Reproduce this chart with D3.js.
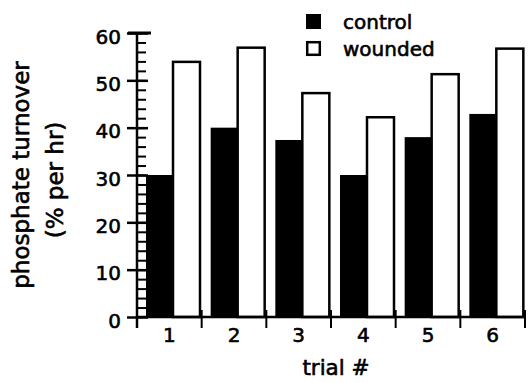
<!DOCTYPE html>
<html>
<head>
<meta charset="utf-8">
<script src="https://cdn.jsdelivr.net/npm/d3@7"></script>
<style>
  body { margin: 0; background: #fff; }
  svg { display: block; }
  text { font-family: "DejaVu Sans", sans-serif; fill: #000; stroke: #000; stroke-width: 0.6px; }
</style>
</head>
<body>
<div id="chart"></div>
<script>
// data
const trials = ["1", "2", "3", "4", "5", "6"];
const series = ["control", "wounded"];
const control = [30, 40, 37.4, 30, 38, 42.9];
const wounded = [53.9, 56.9, 47.3, 42.2, 51.3, 56.7];
const y_ticks = [0, 10, 20, 30, 40, 50, 60];

const width = 529;
const height = 383;

const svg = d3.select("#chart")
  .append("svg")
    .attr("width", width)
    .attr("height", height);

let x0 = d3.scaleBand()
  .domain(trials)
  .range([137, 525]);

let x1 = d3.scaleBand()
  .domain(series)
  .range([9, 63]);

let y_scale = d3.scaleLinear()
  .domain([0, 60])
  .range([317, 33]);

let rows = trials.map((t, i) => ({ trial: t, values: [
  { key: "control", value: control[i] },
  { key: "wounded", value: wounded[i] }
]}));

// bars
let groups = svg.append("g")
  .selectAll("g")
  .data(rows)
  .enter()
  .append("g")
    .attr("transform", d => "translate(" + x0(d.trial) + ",0)");

groups.selectAll("rect")
  .data(d => d.values)
  .enter()
  .append("rect")
    .attr("x", d => x1(d.key))
    .attr("y", d => y_scale(d.value))
    .attr("width", x1.bandwidth())
    .attr("height", d => y_scale(0) - y_scale(d.value))
    .attr("fill", d => d.key == "control" ? "#000" : "#fff")
    .attr("stroke", d => d.key == "control" ? "none" : "#000")
    .attr("stroke-width", 2.5);

// y axis: major ticks crossing the line, minor ticks every 2 on the right
let y_axis = svg.append("g")
  .attr("transform", "translate(137,0)")
  .call(d3.axisLeft(y_scale).tickValues(y_ticks).tickSize(10).tickPadding(6).tickFormat(d3.format("d")));

y_axis.select(".domain").remove();
y_axis.selectAll("line").attr("stroke-width", 2.5);
y_axis.selectAll("text")
  .attr("font-size", 20)
  .attr("dy", "0.5em");

svg.append("g")
  .attr("transform", "translate(137,0)")
  .call(d3.axisRight(y_scale).tickValues(y_ticks).tickSize(11).tickFormat(() => ""))
  .call(g => g.select(".domain").remove())
  .selectAll("line").attr("stroke-width", 2.5);

svg.append("g")
  .attr("transform", "translate(137,0)")
  .call(d3.axisRight(y_scale).tickValues(d3.range(2, 60, 2)).tickSize(9).tickFormat(() => ""))
  .call(g => g.select(".domain").remove())
  .selectAll("line").attr("stroke-width", 2);

svg.append("line")
  .attr("x1", 137).attr("x2", 137)
  .attr("y1", y_scale(60)).attr("y2", y_scale(0) + 11)
  .attr("stroke", "#000")
  .attr("stroke-width", 2.5);

// cap at the top of the axis
svg.append("line")
  .attr("x1", 128).attr("x2", 151)
  .attr("y1", y_scale(60)).attr("y2", y_scale(60))
  .attr("stroke", "#000")
  .attr("stroke-width", 3);

// x axis: ticks at the group boundaries, labels in the middle
svg.append("line")
  .attr("x1", 137).attr("x2", 525)
  .attr("y1", y_scale(0)).attr("y2", y_scale(0))
  .attr("stroke", "#000")
  .attr("stroke-width", 2.5);

svg.append("g")
  .selectAll("line")
  .data(trials.slice(1).concat(["end"]))
  .enter()
  .append("line")
    .attr("x1", d => d == "end" ? x0.range()[1] : x0(d))
    .attr("x2", d => d == "end" ? x0.range()[1] : x0(d))
    .attr("y1", y_scale(0) - 7)
    .attr("y2", y_scale(0) + 11)
    .attr("stroke", "#000")
    .attr("stroke-width", 2);

svg.append("g")
  .selectAll("text")
  .data(trials)
  .enter()
  .append("text")
    .attr("x", d => x0(d) + x0.bandwidth() / 2)
    .attr("y", 342)
    .attr("text-anchor", "middle")
    .attr("font-size", 20)
    .text(d => d);

// axis titles
svg.append("text")
  .attr("x", 336)
  .attr("y", 375)
  .attr("text-anchor", "middle")
  .attr("font-size", 21.5)
  .text("trial #");

svg.append("text")
  .attr("transform", "translate(29,175) rotate(-90)")
  .attr("text-anchor", "middle")
  .attr("font-size", 23)
  .text("phosphate turnover");

svg.append("text")
  .attr("transform", "translate(63,180) rotate(-90)")
  .attr("text-anchor", "middle")
  .attr("font-size", 23)
  .text("(% per hr)");

// legend
let legend = svg.append("g")
  .selectAll("g")
  .data(series)
  .enter()
  .append("g")
    .attr("transform", (d, i) => "translate(306," + (14 + i * 27) + ")");

legend.append("rect")
  .attr("x", d => d == "control" ? 0 : 1.2)
  .attr("y", d => d == "control" ? 0 : 1.2)
  .attr("width", d => d == "control" ? 15 : 12.6)
  .attr("height", d => d == "control" ? 15 : 12.6)
  .attr("fill", d => d == "control" ? "#000" : "#fff")
  .attr("stroke", d => d == "control" ? "none" : "#000")
  .attr("stroke-width", 2.5);

legend.append("text")
  .attr("x", 37)
  .attr("y", 15)
  .attr("font-size", 20)
  .text(d => d);
</script>
</body>
</html>
